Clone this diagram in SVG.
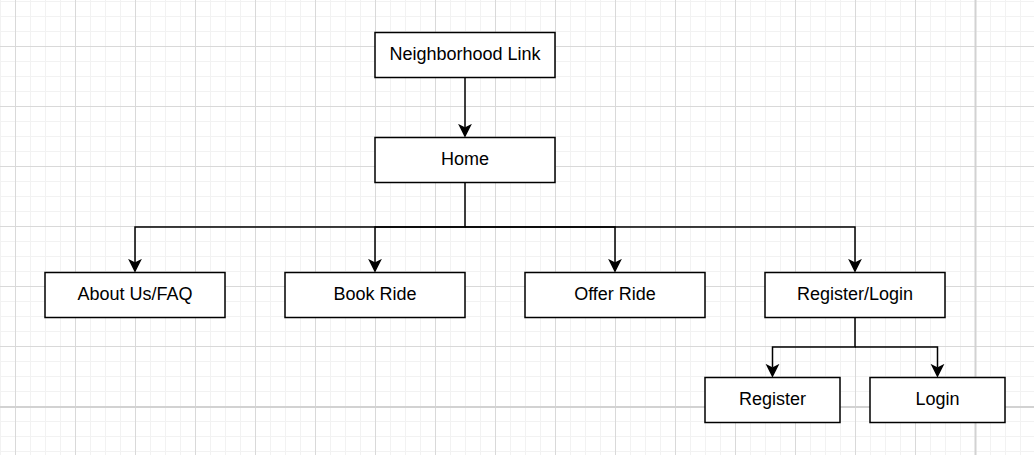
<svg xmlns="http://www.w3.org/2000/svg" width="1034" height="455" viewBox="0 0 1034 455">
  <defs>
    <pattern id="minor" patternUnits="userSpaceOnUse" x="0" y="1" width="15" height="15">
      <path d="M0.5,0 V15 M0,0.5 H15" fill="none" stroke="#f2f2f2" stroke-width="1"/>
    </pattern>
    <pattern id="major" patternUnits="userSpaceOnUse" x="15" y="46" width="60" height="60">
      <path d="M0.5,0 V60 M0,0.5 H60" fill="none" stroke="#d9d9d9" stroke-width="1"/>
    </pattern>
    <marker id="arr" markerUnits="userSpaceOnUse" viewBox="-4 -8 16 16" refX="0" refY="0" markerWidth="16" markerHeight="16" orient="auto">
      <path d="M8.5,0 L-2,-5.25 L0.6,0 L-2,5.25 Z" fill="#000" stroke="#000" stroke-width="1.5" stroke-linejoin="miter"/>
    </marker>
    <style>
      .box { fill: #ffffff; stroke: #000000; stroke-width: 1.5; }
      .lbl { font-family: "Liberation Sans", Arial, Helvetica, sans-serif; font-size: 18px; fill: #000000; text-anchor: middle; }
      .edge { fill: none; stroke: #000000; stroke-width: 1.5; marker-end: url(#arr); }
      .page { stroke: #d2d2d2; stroke-width: 2; }
    </style>
  </defs>

  <g id="background">
    <rect x="0" y="0" width="1034" height="455" fill="#ffffff"/>
    <rect x="0" y="0" width="1034" height="455" fill="url(#minor)"/>
    <rect x="0" y="0" width="1034" height="455" fill="url(#major)"/>
    <line class="page" x1="975.5" y1="0" x2="975.5" y2="455"/>
    <line class="page" x1="0" y1="407" x2="1034" y2="407"/>
  </g>

  <g id="connectors">
    <path class="edge" d="M465,77.5 V127.5"/>
    <path class="edge" d="M465,182.5 V227 H135 V262.5"/>
    <path class="edge" d="M465,227 H375 V262.5"/>
    <path class="edge" d="M465,227 H615 V262.5"/>
    <path class="edge" d="M465,227 H855 V262.5"/>
    <path class="edge" d="M855,317.5 V347 H772.5 V367.5"/>
    <path class="edge" d="M855,347 H937.5 V367.5"/>
  </g>

  <g id="node-neighborhood-link">
    <rect class="box" x="375" y="32.5" width="180" height="45"/>
    <text class="lbl" x="465" y="59.8">Neighborhood Link</text>
  </g>
  <g id="node-home">
    <rect class="box" x="375" y="137.5" width="180" height="45"/>
    <text class="lbl" x="465" y="164.8">Home</text>
  </g>
  <g id="node-about">
    <rect class="box" x="45" y="272.5" width="180" height="45"/>
    <text class="lbl" x="135" y="299.8">About Us/FAQ</text>
  </g>
  <g id="node-book-ride">
    <rect class="box" x="285" y="272.5" width="180" height="45"/>
    <text class="lbl" x="375" y="299.8">Book Ride</text>
  </g>
  <g id="node-offer-ride">
    <rect class="box" x="525" y="272.5" width="180" height="45"/>
    <text class="lbl" x="615" y="299.8">Offer Ride</text>
  </g>
  <g id="node-register-login">
    <rect class="box" x="765" y="272.5" width="180" height="45"/>
    <text class="lbl" x="855" y="299.8">Register/Login</text>
  </g>
  <g id="node-register">
    <rect class="box" x="705" y="377.5" width="135" height="45"/>
    <text class="lbl" x="772.5" y="404.8">Register</text>
  </g>
  <g id="node-login">
    <rect class="box" x="870" y="377.5" width="135" height="45"/>
    <text class="lbl" x="937.5" y="404.8">Login</text>
  </g>
</svg>
